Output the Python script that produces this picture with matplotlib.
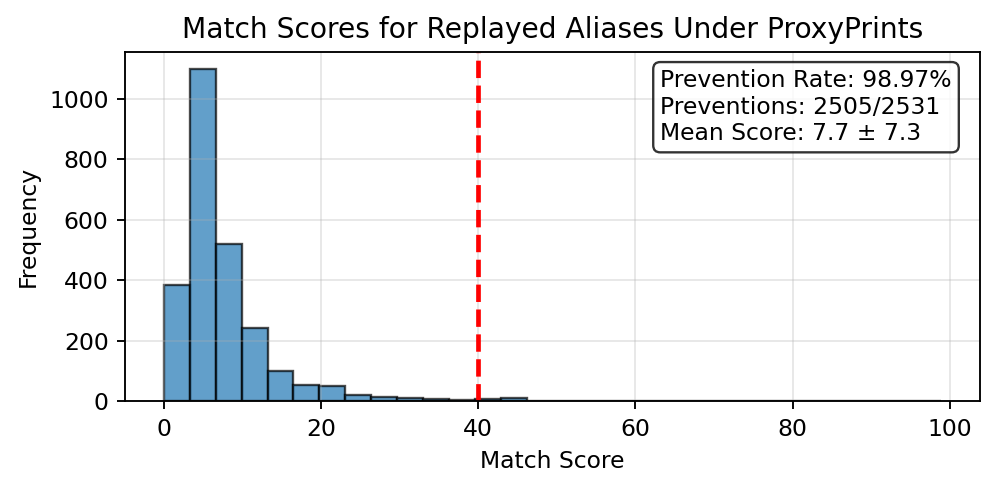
import numpy as np
import matplotlib
matplotlib.use('Agg')
import matplotlib.pyplot as plt

# histogram counts (30 bins from 0 up to the max score)
max_score = 98.9
bin_edges = np.linspace(0, max_score, 31)
counts = [385, 1100, 520, 243, 101, 53, 50, 20, 14, 11, 8, 4,
          6, 11, 2, 1, 1, 1, 0, 1, 0, 0, 0, 1, 0, 0, 1, 0, 1, 0]
threshold = 40
stats_text = "Prevention Rate: 98.97%\nPreventions: 2505/2531\nMean Score: 7.7 ± 7.3"

DPI = 169
fig = plt.figure(figsize=(997/DPI, 490/DPI), dpi=DPI)
ax = fig.add_axes([0.1254, 0.181, 0.8576, 0.7129])

ax.hist(bin_edges[:-1], bins=bin_edges, weights=counts,
        color='#1f77b4', alpha=0.7, edgecolor='black')
ax.axvline(threshold, color='red', linestyle='--', linewidth=2)

ax.set_title('Match Scores for Replayed Aliases Under ProxyPrints', fontsize=12)
ax.set_xlabel('Match Score')
ax.set_ylabel('Frequency')
ax.grid(True, alpha=0.3)

ax.text(0.626, 0.951, stats_text, transform=ax.transAxes, fontsize=10,
        va='top', ha='left',
        bbox=dict(boxstyle='round', facecolor='white', alpha=0.8))

fig.savefig('out.png', dpi=DPI)
plt.close(fig)
